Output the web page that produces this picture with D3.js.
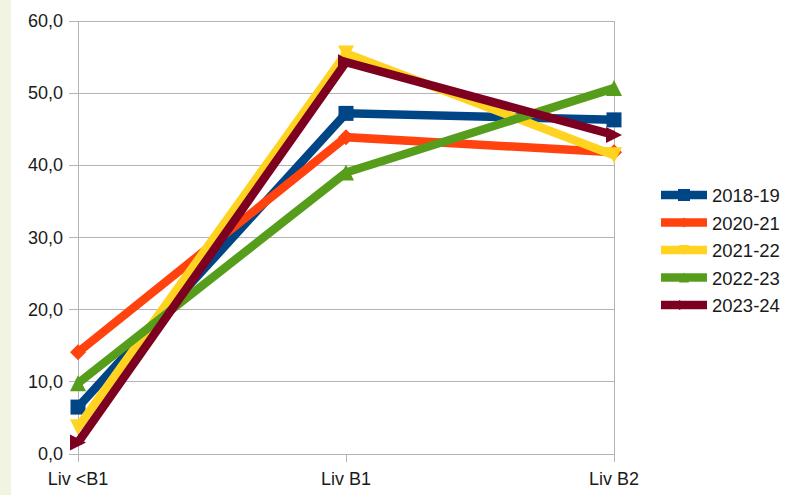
<!DOCTYPE html>
<html><head><meta charset="utf-8">
<script src="https://cdn.jsdelivr.net/npm/d3@7"></script>
<style>body{margin:0;background:#fff}svg{display:block}text{font-family:"Liberation Sans",Arial,sans-serif}</style>
</head><body>
<svg id="c" width="791" height="495"></svg>
<script>
const categories = ["Liv <B1", "Liv B1", "Liv B2"];
const seriesNames = ["2018-19", "2020-21", "2021-22", "2022-23", "2023-24"];
const s2018 = [6.5, 47.2, 46.3];
const s2020 = [14.1, 43.9, 41.8];
const s2021 = [3.7, 55.5, 41.4];
const s2022 = [9.8, 39.0, 50.7];
const s2023 = [1.6, 54.3, 44.2];
const yTicks = [0, 10, 20, 30, 40, 50, 60];
const colors = ["#004586", "#ff420e", "#ffd320", "#579d1c", "#7e0021"];
const symbols = ["square", "diamond", "down", "up", "right"];
const seriesValues = [s2018, s2020, s2021, s2022, s2023];

const svg = d3.select("#c");
svg.append("rect").attr("x",0).attr("y",0).attr("width",11).attr("height",495).attr("fill","#f2f4e2");

const x = d3.scalePoint().domain(categories).range([78, 614]);
const y = d3.scaleLinear().domain([0, 60]).range([454, 21]);

// grid
svg.append("g").selectAll("line").data(yTicks).join("line")
  .attr("x1", 69).attr("x2", 614).attr("y1", d => y(d)).attr("y2", d => y(d))
  .attr("stroke", "#b3b3b3").attr("stroke-width", 1).attr("shape-rendering","crispEdges");
svg.append("line").attr("x1",614).attr("x2",614).attr("y1",y(60)).attr("y2",462)
  .attr("stroke","#b3b3b3").attr("shape-rendering","crispEdges");
svg.append("line").attr("x1",78).attr("x2",78).attr("y1",y(60)).attr("y2",462)
  .attr("stroke","#b3b3b3").attr("shape-rendering","crispEdges");
svg.append("line").attr("x1",346).attr("x2",346).attr("y1",454).attr("y2",462)
  .attr("stroke","#b3b3b3").attr("shape-rendering","crispEdges");

// y labels
svg.append("g").selectAll("text").data(yTicks).join("text")
  .attr("x", 63).attr("y", d => y(d) + 6).attr("text-anchor","end")
  .attr("font-size", 18).attr("fill","#1a1a1a")
  .text(d => d.toFixed(1).replace(".", ","));
// x labels
svg.append("g").selectAll("text").data(categories).join("text")
  .attr("x", d => x(d)).attr("y", 485).attr("text-anchor","middle")
  .attr("font-size", 18).attr("fill","#1a1a1a").text(d => d);

function symPath(type, s) {
  const h = s/2;
  switch(type) {
    case "square": return `M${-h},${-h}H${h}V${h}H${-h}Z`;
    case "diamond": return `M0,${-h}L${h},0L0,${h}L${-h},0Z`;
    case "down": return `M${-h},${-h}H${h}L0,${h}Z`;
    case "up": return `M${-h},${h}H${h}L0,${-h}Z`;
    case "right": return `M${-h},${-h}L${h},0L${-h},${h}Z`;
  }
}

const line = d3.line().x((d,i) => x(categories[i])).y(d => y(d));
seriesValues.forEach((vals, k) => {
  const g = svg.append("g");
  g.append("path").attr("d", line(vals)).attr("fill","none")
    .attr("stroke", colors[k]).attr("stroke-width", 8.5).attr("stroke-linejoin","miter");
  g.selectAll("path.m").data(vals).join("path").attr("class","m")
    .attr("transform", (d,i) => `translate(${x(categories[i])},${y(d)})`)
    .attr("d", symPath(symbols[k], k===0 ? 15 : 16)).attr("fill", colors[k]);
});

// legend
const lg = svg.append("g");
seriesNames.forEach((n, k) => {
  const cy = 195 + k * 27.5;
  lg.append("line").attr("x1",661).attr("x2",707).attr("y1",cy).attr("y2",cy)
    .attr("stroke",colors[k]).attr("stroke-width",8.5);
  lg.append("path").attr("transform",`translate(684,${cy})`)
    .attr("d", symPath(symbols[k], k===0 ? 12 : 10)).attr("fill", colors[k]);
  lg.append("text").attr("x",712).attr("y",cy+7).attr("font-size",18.5).attr("fill","#1a1a1a").text(n);
});
</script>
</body></html>
